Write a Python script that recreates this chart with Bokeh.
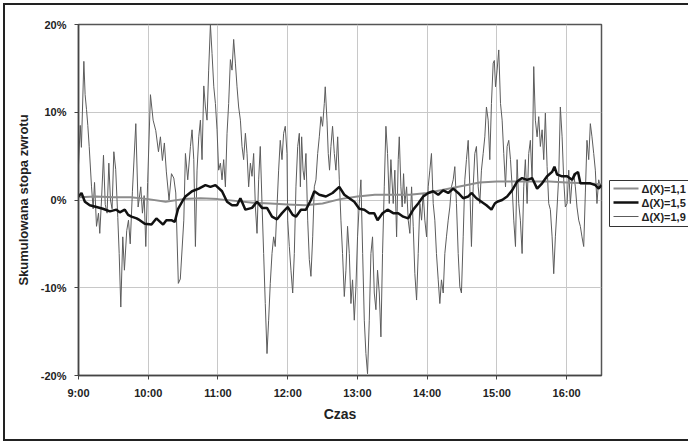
from bokeh.plotting import figure
from bokeh.models import Range1d, FixedTicker, InlineStyleSheet
from bokeh.layouts import row
from bokeh.core.properties import value
from bokeh.embed import file_html
from bokeh.resources import INLINE

# minutes after 9:00 and cumulative return in %
minutes_19 = [0, 1.5, 2.5, 4.6, 5.7, 6.9, 8.0, 9.2, 11.2, 12.6, 13.8, 15.5, 17.2, 18.3, 19.8, 21.5, 23.0, 24.6, 26.1, 27.5,
              28.9, 30.4, 32.0, 33.8, 35.0, 36.4, 38.1, 39.5, 41.5, 43.0, 44.5, 46.4, 49.3, 51.3, 53.6, 55.0, 56.5, 57.9, 59.5, 61.9,
              64.2, 66.5, 68.8, 70.5, 72.2, 73.9, 75.6, 77.9, 80.0, 82.0, 83.7, 85.9, 87.6, 90.6, 92.0, 94.0, 96.3, 97.7, 99.2, 100.6,
              102.0, 103.5, 104.9, 106.3, 107.8, 109.2, 110.6, 112.0, 113.5, 114.9, 116.4, 117.8, 119.2, 120.6, 122.1, 123.5, 124.9, 126.4, 127.8, 129.2,
              130.7, 132.1, 133.5, 135.0, 136.4, 137.8, 139.3, 140.7, 142.1, 143.6, 145.0, 146.4, 147.9, 149.3, 150.7, 152.2, 153.6, 155.0, 156.4, 157.9,
              159.3, 160.7, 162.2, 163.6, 165.0, 166.5, 167.9, 169.3, 170.8, 172.2, 173.6, 175.1, 176.5, 177.9, 179.4, 180.0, 181.4, 182.8, 184.3, 185.7,
              187.1, 188.6, 190.0, 190.9, 192.0, 193.2, 194.3, 195.7, 197.2, 198.6, 200.0, 201.5, 202.9, 204.3, 205.8, 207.2, 208.6, 210.0, 211.5, 212.3,
              213.8, 214.9, 216.0, 217.2, 218.6, 220.1, 221.5, 223.0, 224.4, 225.8, 227.2, 228.7, 230.1, 231.5, 233.0, 234.4, 235.8, 237.3, 238.7, 240.1,
              241.6, 243.0, 244.5, 245.9, 247.3, 248.7, 250.2, 251.6, 253.0, 254.5, 255.9, 257.3, 258.8, 260.2, 261.6, 263.1, 264.5, 265.9, 267.4, 268.8,
              270.8, 272.2, 273.7, 275.1, 276.0, 277.4, 278.5, 279.7, 280.8, 282.3, 283.7, 285.1, 286.6, 288.0, 289.4, 290.9, 292.3, 293.7, 295.2, 296.6,
              298.0, 299.5, 300.9, 302.3, 303.7, 305.2, 306.6, 308.0, 309.5, 310.9, 312.3, 313.8, 315.2, 316.6, 318.1, 319.5, 320.9, 322.4, 323.8, 325.2,
              326.7, 328.1, 329.5, 331.0, 332.4, 333.8, 335.3, 336.7, 338.1, 339.6, 341.0, 342.4, 343.9, 345.3, 346.7, 348.2, 349.6, 351.0, 352.5, 353.9,
              355.3, 356.8, 357.8, 358.8, 360.2, 361.6, 363.1, 364.5, 365.9, 367.4, 368.8, 370.2, 371.7, 373.1, 374.5, 376.0, 377.4, 378.8, 380.2, 381.7,
              383.1, 384.5, 386.0, 387.4, 388.8, 390.3, 391.7, 393.1, 394.6, 396.0, 397.4, 398.9, 400.3, 401.7, 403.2, 404.6, 406.0, 407.5, 408.9, 410.3,
              411.8, 413.2, 414.6, 416.1, 417.5, 418.9, 420.4, 421.8, 423.2, 424.7, 426.1, 427.5, 428.9, 430.4, 431.8, 433.2, 434.7, 436.1, 437.5, 439.0,
              440.4, 441.8, 443.3, 444.7, 446.1, 447.6, 449.0]
values_19 = [4.0, 8.5, 6.0, 15.8, 12.0, 10.3, 8.5, 6.1, 1.5, -1.0, 2.0, -3.0, -1.5, -3.8, 0.0, 5.1, -0.5, -1.5, 4.2, 0.0,
             -1.0, 5.5, 3.5, -2.0, -6.1, -12.2, -4.2, -8.0, -3.5, -2.3, -5.0, 1.0, 8.7, -0.8, 1.5, -1.5, 0.5, -5.3, 2.0, 12.0,
             9.1, 7.9, 5.5, 7.2, 4.5, 6.5, 3.2, 0.0, 3.0, 2.5, 0.8, -9.5, -9.0, -2.3, 5.3, 2.3, 6.1, 8.0, 4.6, -5.3,
             3.4, 7.2, 9.1, 4.6, 13.0, 10.6, 9.1, 14.8, 20.0, 16.7, 12.9, 11.0, 8.0, 3.4, 4.2, 2.3, 4.6, 1.5, 7.6, 11.0,
             16.0, 14.8, 18.3, 15.6, 12.9, 10.6, 9.1, 6.1, 4.6, 7.6, 5.3, 1.5, 4.2, 2.7, 5.3, -0.8, -3.8, 2.3, 6.1, -0.4,
             -6.1, -11.8, -17.5, -13.7, -9.5, -6.1, -4.2, -5.3, -0.8, 3.4, 6.8, 4.6, 7.6, 8.4, 5.3, -2.3, -5.3, -8.0, -10.6, -6.1,
             1.5, 6.1, 7.6, 1.5, 7.2, 3.4, 2.3, 5.3, -2.3, -6.8, -8.7, -4.2, 1.5, 2.3, 5.3, 7.2, 9.5, 8.4, 11.0, 12.9,
             9.1, 5.3, 3.4, 6.1, 8.4, 5.3, 3.4, 7.2, 2.3, -2.3, -6.1, -11.0, -8.0, -3.0, -6.1, -11.8, -9.1, -13.7, -9.9, -4.2,
             -0.4, 2.3, -6.1, -13.7, -17.5, -19.8, -13.7, -6.1, -4.2, -10.6, -12.5, -8.0, -10.6, -15.6, -6.1, 1.5, 8.4, 5.3, -0.4, 4.6,
             -0.4, 3.4, -4.2, 4.6, 7.2, 1.5, -0.8, 3.0, -0.4, 1.5, -2.3, -3.8, 1.5, -3.0, -8.4, -11.4, -6.1, -0.4, -2.3, 0.8,
             -2.3, -4.2, 1.5, 3.4, 5.3, -0.4, -2.3, -6.1, -9.1, -11.8, -9.1, -10.6, -6.1, -4.2, -2.3, -0.8, 1.5, 2.3, 3.8, -0.4,
             -6.1, -9.9, -10.6, -4.2, 2.3, 4.6, 6.8, 1.5, -5.3, 1.5, 5.3, 6.1, 1.5, -0.4, 3.4, 5.3, 7.2, 10.6, 9.1, 4.6,
             11.0, 15.6, 15.9, 12.9, 14.8, 17.1, 11.0, 9.1, 5.3, 1.5, 6.1, 6.8, 4.6, 1.5, -2.3, -5.3, 4.6, -0.4, -2.3, -6.1,
             1.5, 4.6, -0.4, 5.3, 6.8, 2.3, 15.2, 9.1, 7.2, 9.5, 6.1, 8.0, 4.6, 9.9, 3.8, -0.4, -1.1, -4.2, -8.4, -4.2,
             -0.8, 2.7, 10.6, 7.2, 2.3, -0.8, -0.4, 3.4, -0.4, 2.3, 3.0, 1.5, -0.8, -2.3, -3.0, -4.2, -5.3, 0.8, 6.8, 4.6,
             8.7, 7.2, 5.3, 3.4, -0.4, 2.3, 1.5]

minutes_15 = [0, 2.6, 5.5, 9.7, 15.5, 21.0, 27.0, 32.6, 35.5, 39.8, 42.7, 45.6, 50.0, 52.7, 57.0, 62.8, 67.0, 72.8, 75.6, 79.9,
              82.8, 85.7, 90.0, 92.0, 97.7, 103.5, 109.2, 113.5, 117.8, 123.5, 127.8, 132.1, 136.4, 139.3, 143.6, 149.3, 153.6, 157.9, 162.2, 166.5,
              170.8, 175.1, 180.0, 184.3, 187.1, 191.4, 195.7, 200.0, 202.9, 207.2, 212.9, 218.6, 224.4, 228.7, 233.0, 237.3, 241.6, 245.9, 250.2, 254.5,
              257.3, 261.6, 265.9, 270.8, 275.1, 279.4, 283.7, 288.0, 292.3, 296.6, 300.9, 305.2, 309.5, 313.8, 318.1, 322.4, 326.7, 331.0, 335.3, 338.1,
              342.4, 346.7, 351.0, 355.3, 358.2, 360.2, 364.5, 368.8, 373.1, 377.4, 381.7, 386.0, 390.3, 394.6, 398.9, 403.2, 407.5, 409.5, 411.8, 416.1,
              420.4, 424.7, 427.5, 429.8, 431.8, 436.1, 440.4, 444.7, 447.6, 450.0]
values_15 = [0.4, 0.8, -0.2, -0.6, -0.8, -1.0, -1.3, -1.1, -1.4, -1.1, -1.7, -1.9, -2.1, -2.3, -2.7, -2.8, -2.1, -2.8, -2.3, -2.3,
             -2.5, -1.0, 0.0, 0.4, 1.0, 1.3, 1.7, 1.5, 1.7, 1.0, -0.2, -0.6, -0.6, 0.2, -1.1, -0.9, -0.2, -0.9, -0.9, -1.9,
             -2.2, -1.5, -0.8, -1.7, -1.9, -1.1, -1.1, 0.0, 1.0, 0.6, 0.4, 0.8, 1.5, 0.6, 0.2, -0.2, -1.0, -1.1, -1.5, -1.5,
             -2.3, -1.5, -1.1, -1.5, -1.5, -1.9, -2.1, -1.1, -0.4, 0.4, 0.8, 1.0, 0.6, 1.1, 0.8, 1.3, 0.8, 0.2, 0.4, 0.8,
             0.2, -0.2, -0.6, -1.1, -0.4, -0.2, 0.0, 0.4, 1.1, 2.1, 2.5, 2.3, 2.5, 1.3, 1.9, 2.7, 3.2, 3.8, 2.9, 2.7,
             2.7, 2.3, 3.0, 3.2, 1.9, 1.9, 1.9, 1.7, 1.3, 1.7]

minutes_11 = [0, 15, 30, 45, 60, 75, 90, 105, 120, 135, 150, 165, 180, 195, 210, 225, 240, 255, 270, 285,
              300, 315, 330, 345, 360, 375, 390, 405, 420, 435, 450]
values_11 = [0.3, 0.4, 0.3, 0.3, 0.1, -0.2, 0.1, 0.2, 0.1, -0.1, -0.3, -0.4, -0.5, -0.6, -0.4, 0.1, 0.4, 0.6, 0.6, 0.6,
             0.8, 1.2, 1.6, 2.0, 2.1, 2.1, 2.1, 2.1, 2.0, 1.9, 1.8]

x_ticks = [0, 60, 120, 180, 240, 300, 360, 420]
x_tick_labels = ["9:00", "10:00", "11:00", "12:00", "13:00", "14:00", "15:00", "16:00"]
y_ticks = [-20, -10, 0, 10, 20]
y_tick_labels = ["-20%", "-10%", "0%", "10%", "20%"]
series_labels = ["\u0394(X)=1,1", "\u0394(X)=1,5", "\u0394(X)=1,9"]
series_colors = ["#8c8c8c", "#111111", "#5c5c5c"]
series_widths = [2, 2.5, 1]

FONT = "Liberation Sans"

# ---- main chart ----
p = figure(width=606, height=442, output_backend="svg", toolbar_location=None,
           x_range=Range1d(0, 450), y_range=Range1d(-20, 20),
           min_border_left=78, min_border_right=5, min_border_top=24, min_border_bottom=67,
           background_fill_color="white", border_fill_color="white")
p.outline_line_color = "#555555"
p.outline_line_width = 1.5

p.line(minutes_19, values_19, line_color=series_colors[2], line_width=series_widths[2])
p.line(minutes_11, values_11, line_color=series_colors[0], line_width=series_widths[0])
p.line(minutes_15, values_15, line_color=series_colors[1], line_width=series_widths[1])

for ax in (p.xaxis[0], p.yaxis[0]):
    ax.axis_line_color = "#444444"
    ax.axis_line_width = 1.5
    ax.major_tick_line_color = "#444444"
    ax.major_tick_out = 4
    ax.major_tick_in = 0
    ax.minor_tick_line_color = None
    ax.major_label_text_font = FONT
    ax.major_label_text_font_style = "bold"
    ax.major_label_text_font_size = "11px"
    ax.major_label_text_color = "#222222"
    ax.major_label_standoff = 7
    ax.axis_label_text_font = FONT
    ax.axis_label_text_font_style = "bold"
    ax.axis_label_text_color = "#222222"

p.yaxis[0].major_label_standoff = 8
p.xaxis[0].ticker = FixedTicker(ticks=x_ticks)
p.xaxis[0].major_label_overrides = {t: l for t, l in zip(x_ticks, x_tick_labels)}
p.yaxis[0].ticker = FixedTicker(ticks=y_ticks)
p.yaxis[0].major_label_overrides = {t: l for t, l in zip(y_ticks, y_tick_labels)}
p.xaxis[0].axis_label = "Czas"
p.xaxis[0].axis_label_text_font_size = "14px"
p.xaxis[0].axis_label_standoff = 4
p.yaxis[0].axis_label = "Skumulowana stopa zwrotu"
p.yaxis[0].axis_label_text_font_size = "13px"
p.yaxis[0].axis_label_standoff = 7

p.xgrid.grid_line_color = "#c8c8c8"
p.ygrid.grid_line_color = "#c8c8c8"
p.xgrid.ticker = FixedTicker(ticks=x_ticks)
p.ygrid.ticker = FixedTicker(ticks=y_ticks)

# ---- legend panel (page pixel coordinates, y downwards; its frame is aligned with the chart frame) ----
q = figure(width=82, height=442, output_backend="svg", toolbar_location=None,
           x_range=Range1d(0, 82), y_range=Range1d(375, 24),
           min_border=0, background_fill_color="white", border_fill_color="white")
q.axis.visible = False
q.grid.visible = False
q.outline_line_color = None
q.quad(left=[3], right=[120], top=[180], bottom=[226], fill_color="white",
       line_color="#333333", line_width=1)
row_y = [188, 202, 216]
for i in range(3):
    q.line([7, 32], [row_y[i], row_y[i]], line_color=series_colors[i], line_width=series_widths[i])
q.text(x=[35, 35, 35], y=row_y, text=series_labels, text_font=value(FONT), text_font_style="bold",
       text_font_size="11px", text_color="#222222", text_baseline="middle", text_align="left")

layout = row(p, q, spacing=0)
layout.stylesheets = [InlineStyleSheet(css=":host { position: relative; } :host::after { content: ''; position: absolute; left: 3px; top: 3px; right: 0px; bottom: 1px; border: 2px solid #222; border-right: none; pointer-events: none; z-index: 50; }")]

open("out.html", "w").write(file_html(layout, INLINE))
